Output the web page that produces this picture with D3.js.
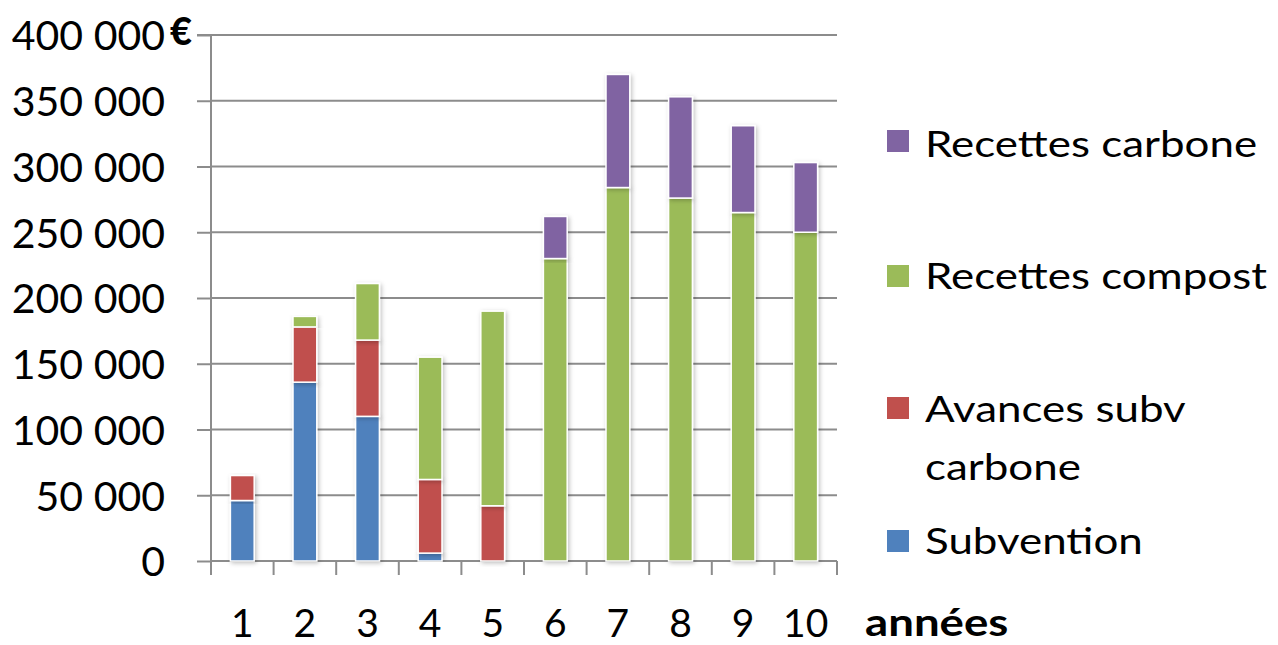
<!DOCTYPE html>
<html><head><meta charset="utf-8">
<script src="https://cdn.jsdelivr.net/npm/d3@7"></script>
<style>body{margin:0;background:#fff}svg{display:block}</style>
</head><body>
<svg id="c" width="1278" height="645"></svg>
<script>
const years = ["1","2","3","4","5","6","7","8","9","10"];
const subvention      = [46000,136000,110000,6000,0,0,0,0,0,0];
const avancesSubv     = [19000,42000,58000,56000,42000,0,0,0,0,0];
const recettesCompost = [0,8000,43000,93000,148000,230000,284000,276000,265000,250000];
const recettesCarbone = [0,0,0,0,0,32000,86000,77000,66000,53000];
const yTicks = [0,50000,100000,150000,200000,250000,300000,350000,400000];
const seriesNames = ["Subvention","Avances subv carbone","Recettes compost","Recettes carbone"];
const colors = ["#4F81BD","#C0504D","#9BBB59","#8064A2"];

const rows = years.map((y,i)=>({year:y, s0:subvention[i], s1:avancesSubv[i], s2:recettesCompost[i], s3:recettesCarbone[i]}));
const stack = d3.stack().keys(["s0","s1","s2","s3"])(rows);

const svg = d3.select("#c");
const L=211, R=837, T=35, B=561;
const x = d3.scaleBand().domain(years).range([L,R]).paddingInner(0.62).paddingOuter(0.31);
const y = d3.scaleLinear().domain([0,400000]).range([B,T]);

const defs = svg.append("defs");
const f = defs.append("filter").attr("id","sh").attr("x","-30%").attr("y","-10%").attr("width","160%").attr("height","120%");
f.append("feDropShadow").attr("dx",1.5).attr("dy",1.5).attr("stdDeviation",2).attr("flood-color","#000").attr("flood-opacity",0.25);

// gridlines
svg.append("g").selectAll("line").data(yTicks.filter(d=>d>0)).join("line")
  .attr("x1",L).attr("x2",R).attr("y1",d=>y(d)).attr("y2",d=>y(d))
  .attr("stroke","#8c8c8c").attr("stroke-width",2);

// y axis
const ya = svg.append("g").attr("transform",`translate(${L},0)`)
  .call(d3.axisLeft(y).tickValues(yTicks).tickSize(14)
  .tickFormat(d=>d3.format(",")(d).replace(/,/g," ")));
ya.select(".domain").attr("stroke","#8c8c8c").attr("stroke-width",2).attr("d",`M-14,${T}H0V${B+14}`);
ya.selectAll(".tick line").attr("stroke","#8c8c8c").attr("stroke-width",2);
ya.selectAll(".tick text").attr("font-family","Lato, sans-serif").attr("font-size",41).attr("fill","#000")
  .attr("dy","0.36em").attr("x",-46).attr("text-anchor","end");

// x axis
const xa = svg.append("g").attr("transform",`translate(0,${B})`)
  .call(d3.axisBottom(x).tickSize(0).tickPadding(48));
xa.select(".domain").attr("stroke","#8c8c8c").attr("stroke-width",2).attr("d",`M${L},0H${R}`);
xa.selectAll(".tick text").attr("font-family","Lato, sans-serif").attr("font-size",39).attr("fill","#000");
// category boundary ticks
const bounds = d3.range(0, years.length+1).map(i=>L + i*(R-L)/years.length);
svg.append("g").selectAll("line").data(bounds).join("line")
  .attr("x1",d=>d).attr("x2",d=>d).attr("y1",B).attr("y2",B+14)
  .attr("stroke","#8c8c8c").attr("stroke-width",2);

// bars
svg.append("g").selectAll("g").data(stack).join("g").attr("fill",(d,i)=>colors[i])
  .selectAll("rect").data(d=>d.filter(p=>p[1]-p[0]>0)).join("rect")
  .attr("x",d=>x(d.data.year)).attr("width",x.bandwidth())
  .attr("y",d=>y(d[1])).attr("height",d=>y(d[0])-y(d[1]))
  .attr("stroke","#fff").attr("stroke-width",1.5).attr("filter","url(#sh)");

// euro sign
svg.append("text").attr("x",170).attr("y",45).attr("font-family","Lato, sans-serif")
  .attr("font-weight","900").attr("font-size",38).text("€");
// années
svg.append("text").attr("transform","translate(865,636) scale(1.17,1)").attr("font-family","Lato, sans-serif")
  .attr("font-weight","bold").attr("font-size",39).text("années");

// legend
const legend = [
  {i:3, lines:["Recettes carbone"], y:141, b:157},
  {i:2, lines:["Recettes compost"], y:276, b:289},
  {i:1, lines:["Avances subv","carbone"], y:408, b:422},
  {i:0, lines:["Subvention"], y:541, b:554}
];
const lg = svg.append("g");
legend.forEach(l=>{
  lg.append("rect").attr("x",887).attr("y",l.y-11).attr("width",22).attr("height",22).attr("fill",colors[l.i]);
  l.lines.forEach((s,k)=>lg.append("text")
    .attr("transform",`translate(925,${l.b+k*58}) scale(1.22,1)`)
    .attr("font-family","Lato, sans-serif").attr("font-size",36).attr("fill","#000").text(s));
});
</script>
</body></html>
